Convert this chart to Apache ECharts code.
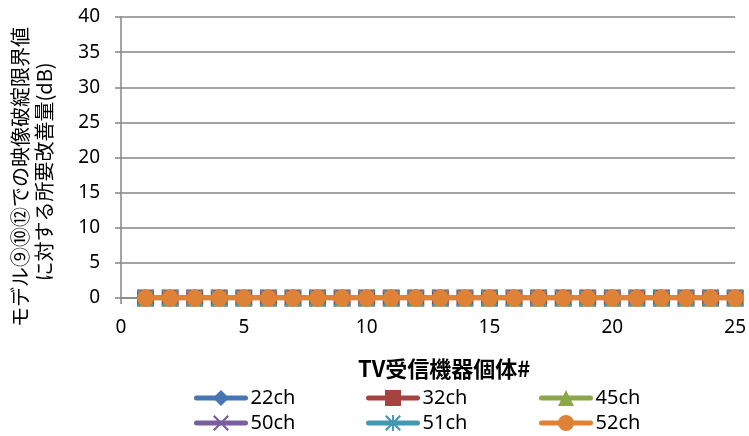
<!DOCTYPE html>
<html>
<head>
<meta charset="utf-8">
<script src="https://cdn.jsdelivr.net/npm/echarts@6/dist/echarts.min.js"></script>
<style>
html,body{margin:0;padding:0;background:#fff;}
#chart{width:749px;height:436px;}
</style>
</head>
<body>
<div id="chart"></div>
<script>
// ---- data ----
var units = [1,2,3,4,5,6,7,8,9,10,11,12,13,14,15,16,17,18,19,20,21,22,23,24,25];
var ch22 = [0,0,0,0,0,0,0,0,0,0,0,0,0,0,0,0,0,0,0,0,0,0,0,0,0];
var ch32 = [0,0,0,0,0,0,0,0,0,0,0,0,0,0,0,0,0,0,0,0,0,0,0,0,0];
var ch45 = [0,0,0,0,0,0,0,0,0,0,0,0,0,0,0,0,0,0,0,0,0,0,0,0,0];
var ch50 = [0,0,0,0,0,0,0,0,0,0,0,0,0,0,0,0,0,0,0,0,0,0,0,0,0];
var ch51 = [0,0,0,0,0,0,0,0,0,0,0,0,0,0,0,0,0,0,0,0,0,0,0,0,0];
var ch52 = [0,0,0,0,0,0,0,0,0,0,0,0,0,0,0,0,0,0,0,0,0,0,0,0,0];
var seriesNames = ['22ch','32ch','45ch','50ch','51ch','52ch'];
var seriesValues = [ch22, ch32, ch45, ch50, ch51, ch52];
var xTitle = 'TV受信機器個体#';
var yTitle1 = 'モデル⑨⑩⑫での映像破綻限界値';
var yTitle2 = 'に対する所要改善量(dB)';

// ---- styles ----
var colors = ['#4677B4','#A64340','#8AA84A','#7A5E9E','#4298B0','#DD8236'];
var symbols = [
  'diamond',
  'rect',
  'triangle',
  'path://M0,1L1,0L5,4L9,0L10,1L6,5L10,9L9,10L5,6L1,10L0,9L4,5Z',
  'path://M0,1L1,0L5,4L9,0L10,1L6,5L10,9L9,10L5,6L1,10L0,9L4,5Z M4.4,0L5.6,0L5.6,10L4.4,10Z',
  'circle'
];
var font = '"Noto Sans", "Liberation Sans", sans-serif';
var cjk = '"Noto Sans CJK JP", "Noto Sans", sans-serif';
var axisGray = '#868686';

function pairs(vals){
  var out = [];
  for (var i = 0; i < units.length; i++) out.push([units[i], vals[i]]);
  return out;
}

var series = seriesNames.map(function(n, i){
  return {
    name: n,
    type: 'line',
    data: pairs(seriesValues[i]),
    symbol: symbols[i],
    symbolSize: 17,
    showSymbol: true,
    z: 2 + i,
    lineStyle: {color: colors[i], width: 4.5, cap: 'round'},
    itemStyle: {color: colors[i]},
    emphasis: {disabled: true},
    animation: false
  };
});

var legendLeft = [194, 366, 539];
var legendTop = [388, 413];
var legends = seriesNames.map(function(n, i){
  return {
    left: legendLeft[i % 3],
    top: legendTop[Math.floor(i / 3)],
    data: [n],
    padding: 0,
    itemWidth: 49,
    itemHeight: 20,
    lineStyle: {width: 5, cap: 'round'},
    textStyle: {fontSize: 20, color: '#000', fontFamily: font},
    selectedMode: false
  };
});

var chart = echarts.init(document.getElementById('chart'), null, {renderer: 'canvas'});
chart.setOption({
  backgroundColor: '#fff',
  animation: false,
  grid: {left: 121, right: 13, top: 17, bottom: 138, containLabel: false},
  xAxis: {
    type: 'value',
    min: 0, max: 25, interval: 5,
    name: xTitle,
    nameLocation: 'middle',
    nameGap: 60,
    nameTextStyle: {fontSize: 22, fontWeight: 'bold', color: '#000', fontFamily: cjk, padding: [0,0,0,32]},
    axisLine: {show: true, onZero: false, lineStyle: {color: axisGray, width: 1.5}},
    axisTick: {show: true, inside: false, length: 6, lineStyle: {color: axisGray, width: 1.5}},
    axisLabel: {fontSize: 19, color: '#000', fontFamily: font, margin: 20},
    splitLine: {show: false}
  },
  yAxis: {
    type: 'value',
    min: 0, max: 40, interval: 5,
    axisLine: {show: true, lineStyle: {color: axisGray, width: 1.5}},
    axisTick: {show: true, inside: false, length: 6, lineStyle: {color: axisGray, width: 1.5}},
    axisLabel: {fontSize: 19, color: '#000', fontFamily: font, margin: 21},
    splitLine: {show: true, lineStyle: {color: axisGray, width: 1.5}}
  },
  legend: legends,
  graphic: [
    {type: 'text', x: 20, y: 177, rotation: Math.PI / 2,
     style: {text: yTitle1, fontSize: 20, fontFamily: cjk, fill: '#000', align: 'center', verticalAlign: 'middle'}},
    {type: 'text', x: 44, y: 172, rotation: Math.PI / 2,
     style: {text: yTitle2, fontSize: 20, fontFamily: cjk, fill: '#000', align: 'center', verticalAlign: 'middle'}}
  ],
  series: series
});
</script>
</body>
</html>
